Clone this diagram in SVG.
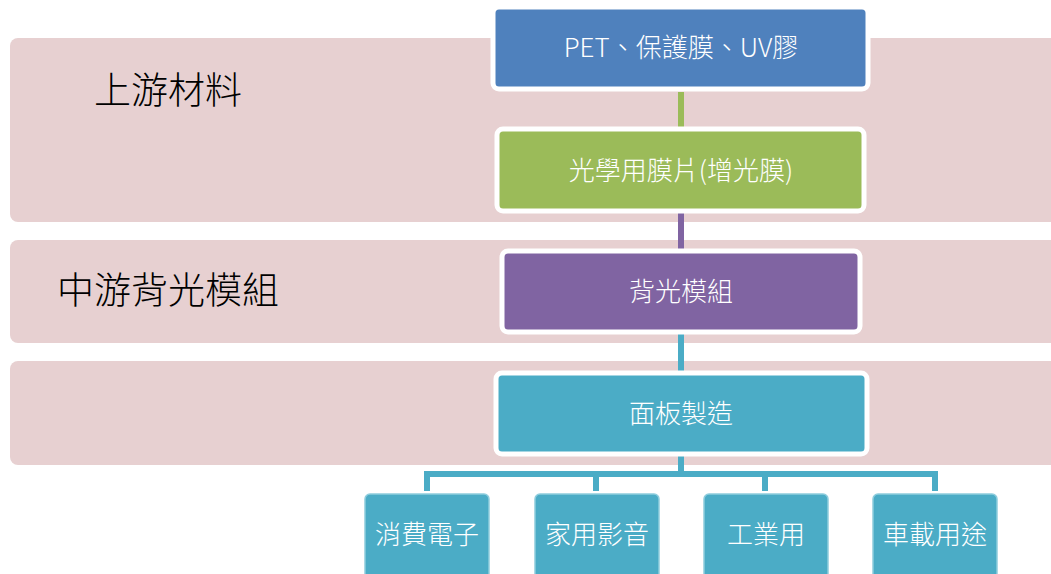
<svg xmlns="http://www.w3.org/2000/svg" width="1051" height="574" viewBox="0 0 1051 574">
<style>
.band{fill:#E7D0D1}
.node{stroke:#FFFFFF;stroke-width:5}
.child{fill:#4BACC6;stroke:#8ECDDD;stroke-width:1.5}
.nt{font-family:"Noto Sans CJK TC","Noto Sans CJK SC",sans-serif;font-weight:300;font-size:26px;fill:#FFFFFF;text-anchor:middle;dominant-baseline:central}
.lt{font-family:"Noto Sans CJK TC","Noto Sans CJK SC",sans-serif;font-weight:300;font-size:37px;fill:#000000;dominant-baseline:central}
.conn{fill:none;stroke-width:6}
</style>
<rect width="1051" height="574" fill="#FFFFFF"/>
<g id="bands">
<rect class="band" x="10" y="38" width="1060" height="184" rx="8"/>
<rect class="band" x="10" y="240" width="1060" height="103" rx="8"/>
<rect class="band" x="10" y="361" width="1060" height="104" rx="8"/>
<text class="lt" x="94" y="88">上游材料</text>
<text class="lt" x="57" y="288">中游背光模組</text>
</g>
<g id="connectors">
<line class="conn" x1="681" y1="92" x2="681" y2="127" stroke="#9BBB59"/>
<line class="conn" x1="681" y1="213" x2="681" y2="249" stroke="#8064A2"/>
<line class="conn" x1="681" y1="334" x2="681" y2="371" stroke="#4BACC6"/>
<path class="conn" d="M681 456 V474 M427 491 V474 H935 V491 M596 474 V491 M765 474 V491" stroke="#4BACC6"/>
</g>
<g id="node-pet">
<rect class="node" x="493" y="7" width="375" height="82" rx="6" fill="#4F81BD"/>
<text class="nt" x="681" y="45">PET、保護膜、UV膠</text>
</g>
<g id="node-film">
<rect class="node" x="497" y="129" width="367" height="82" rx="6" fill="#9BBB59"/>
<text class="nt" x="681" y="168">光學用膜片(增光膜)</text>
</g>
<g id="node-blu">
<rect class="node" x="502" y="251" width="358" height="81" rx="6" fill="#8064A2"/>
<text class="nt" x="681" y="289">背光模組</text>
</g>
<g id="node-panel">
<rect class="node" x="496" y="373" width="371" height="81" rx="6" fill="#4BACC6"/>
<text class="nt" x="681" y="411">面板製造</text>
</g>
<g id="node-consumer">
<rect class="child" x="365" y="494" width="124" height="95" rx="5"/>
<text class="nt" x="427" y="532">消費電子</text>
</g>
<g id="node-home">
<rect class="child" x="535" y="494" width="124" height="95" rx="5"/>
<text class="nt" x="597" y="532">家用影音</text>
</g>
<g id="node-industrial">
<rect class="child" x="704" y="494" width="124" height="95" rx="5"/>
<text class="nt" x="766" y="532">工業用</text>
</g>
<g id="node-auto">
<rect class="child" x="873" y="494" width="124" height="95" rx="5"/>
<text class="nt" x="935" y="532">車載用途</text>
</g>
</svg>
